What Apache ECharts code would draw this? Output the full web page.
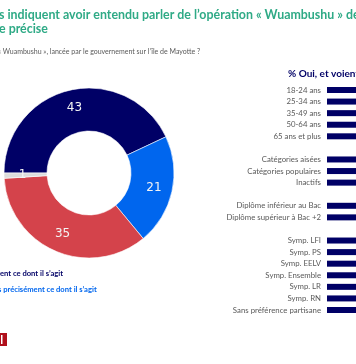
<!DOCTYPE html>
<html>
<head>
<meta charset="utf-8">
<script src="https://cdn.jsdelivr.net/npm/echarts@6/dist/echarts.min.js"></script>
<style>html,body{margin:0;padding:0;background:#fff;}#c{width:356px;height:364px;}</style>
</head>
<body>
<div id="c"></div>
<script>
// Donut data
const donutLabels = ["Oui, et voient précisément ce dont il s'agit", "Oui, mais ne voient pas précisément ce dont il s'agit", "Non", "Ne se prononcent pas"];
const donutValues = [43, 21, 35, 1];
const donutColors = ["#000066", "#0066EE", "#D4434B", "#DCDCDC"];

// Bar chart data (bars are cut at the right edge of the picture; values estimated)
const barCategories = ["18-24 ans", "25-34 ans", "35-49 ans", "50-64 ans", "65 ans et plus", "",
  "Catégories aisées", "Catégories populaires", "Inactifs", " ",
  "Diplôme inférieur au Bac", "Diplôme supérieur à Bac +2", "  ",
  "Symp. LFI", "Symp. PS", "Symp. EELV", "Symp. Ensemble", "Symp. LR", "Symp. RN", "Sans préférence partisane"];
const barValues = [38, 40, 42, 44, 48, "-", 47, 38, 44, "-", 39, 50, "-", 52, 55, 53, 50, 53, 44, 30];

const chart = echarts.init(document.getElementById('c'), null, {renderer: 'canvas'});
const FONT = 'Lato';
chart.setOption({
  animation: false,
  backgroundColor: '#fff',
  textStyle: {fontFamily: FONT},
  graphic: [
    {type: 'text', left: -1, top: 9, style: {text: "s indiquent avoir entendu parler de l’opération « Wuambushu » de", fill: '#2FAA86', font: 'bold 12.4px Lato'}},
    {type: 'text', left: -1, top: 23, style: {text: "e précise", fill: '#2FAA86', font: 'bold 12.4px Lato'}},
    {type: 'text', left: -2, top: 48, style: {text: "« Wuambushu », lancée par le gouvernement sur l’île de Mayotte ?", fill: '#595959', font: '7px Lato'}},
    {type: 'text', left: 288, top: 69, style: {text: "% Oui, et voient précisément", fill: '#000066', font: 'bold 10px Lato'}},
    {type: 'text', left: 0, top: 270, style: {text: "ent ce dont il s’agit", fill: '#000066', font: 'bold 7.6px Lato'}},
    {type: 'text', left: -2, top: 286, style: {text: "s précisément ce dont il s’agit", fill: '#0066EE', font: 'bold 7.6px Lato'}},
    {type: 'rect', shape: {x: -6, y: 333, width: 13, height: 13}, style: {fill: '#B0101C'}},
    {type: 'rect', shape: {x: 1, y: 335, width: 1.5, height: 9}, style: {fill: '#ffffff'}}
  ],
  grid: {left: 327, top: 84.2, right: 0, height: 231.6, containLabel: false},
  xAxis: {type: 'value', min: 0, max: 25, show: false},
  yAxis: {
    type: 'category', data: barCategories, inverse: true,
    axisLine: {show: false}, axisTick: {show: false},
    axisLabel: {color: '#595959', fontSize: 7.8, fontFamily: FONT, margin: 6, interval: 0}
  },
  series: [
    {
      type: 'bar', data: barValues, barWidth: 6, itemStyle: {color: '#000066'}, silent: true, clip: true
    },
    {
      type: 'pie', center: [89, 173], radius: [42, 85], startAngle: 180, clockwise: true,
      avoidLabelOverlap: false, silent: true,
      itemStyle: {borderColor: '#ffffff', borderWidth: 0.6},
      label: {show: true, position: 'inside', formatter: '{c}', color: '#F4F4F4', fontSize: 12, fontFamily: 'DejaVu Sans'},
      labelLine: {show: false},
      data: donutLabels.map((n, i) => ({name: n, value: donutValues[i], itemStyle: {color: donutColors[i]}}))
    }
  ]
});
</script>
</body>
</html>
